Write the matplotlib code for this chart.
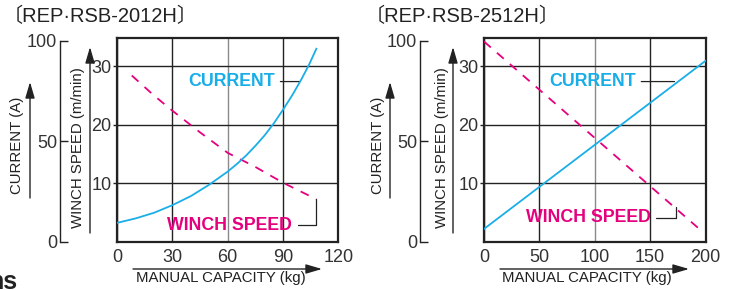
import matplotlib
matplotlib.use("Agg")
import matplotlib.pyplot as plt
from matplotlib.patches import FancyArrowPatch

plt.rcParams['font.family'] = ['Liberation Sans', 'Noto Sans CJK JP', 'DejaVu Sans']

# ---------------- data ----------------
titles = ["〔REP·RSB-2012H〕", "〔REP·RSB-2512H〕"]

# left chart (REP-RSB-2012H)
l_xticks = [0, 30, 60, 90, 120]
l_cur_kg = [0, 10, 20, 30, 40, 50, 60, 65, 70, 75, 80, 85, 90, 95, 100, 104, 108]
l_cur = [9.5, 11.7, 14.5, 18.3, 22.8, 28.5, 35, 38.8, 43, 47.8, 53, 59, 65.8, 73, 81, 88, 96]
l_spd_kg = [8, 20, 30, 45, 60, 75, 90, 108]
l_spd = [28.4, 25.0, 22.4, 18.7, 15.2, 12.8, 10.1, 7.3]

# right chart (REP-RSB-2512H)
r_xticks = [0, 50, 100, 150, 200]
r_cur_kg = [0, 200]
r_cur = [6.5, 90]
r_spd_kg = [0, 197]
r_spd = [34.2, 1.8]

speed_ticks = [10, 20, 30]
current_ticks = [0, 50, 100]

BLUE = "#19AEE8"
MAG = "#E5007E"
DARK = "#222222"
TXT = "#333333"

W, H = 734, 290
fig = plt.figure(figsize=(W / 100, H / 100), dpi=100)


def fx(px):
    return px / W


def fy(py):
    return 1 - py / H


def farrow(x0, y0, x1, y1):
    a = FancyArrowPatch((fx(x0), fy(y0)), (fx(x1), fy(y1)), transform=fig.transFigure,
                        arrowstyle="-|>,head_length=0.75,head_width=0.22", mutation_scale=13,
                        color=DARK, lw=1.0, shrinkA=0, shrinkB=0)
    fig.add_artist(a)


def panel(box_left, xticks, cur_kg, cur, spd_kg, spd, title, cur_off,
          cur_txt, cur_tip, spd_txt, spd_tip, offs):
    ax = fig.add_axes([fx(box_left), fy(242), fx(221.5), (242 - 38) / H])
    ax.set_xlim(xticks[0], xticks[-1])
    ax.set_ylim(0, 34.8)
    ax.set_xticks(xticks)
    ax.set_yticks(speed_ticks)
    ax.tick_params(axis='x', length=0, pad=5, labelsize=13, labelcolor=TXT)
    ax.tick_params(axis='y', length=3, width=1, pad=1, labelsize=13, labelcolor=TXT, color=DARK)
    for s in ax.spines.values():
        s.set_linewidth(1.6)
        s.set_color(DARK)
    ax.grid(True, color=DARK, lw=1.0)
    xgl = ax.get_xgridlines()
    xgl[2].set_color("#8a8a8a")
    ax.plot(spd_kg, spd, color=MAG, lw=1.3, dashes=(5, 4.5), zorder=3)

    axc = ax.twinx()
    axc.set_ylim(0, 100 * (242 - 38) / (242 - 40.7))
    axc.set_yticks(current_ticks)
    axc.yaxis.set_ticks_position('left')
    axc.yaxis.set_label_position('left')
    for k in ['right', 'top', 'bottom']:
        axc.spines[k].set_visible(False)
    axc.spines['left'].set_visible(True)
    axc.spines['left'].set_position(('outward', cur_off))
    axc.spines['left'].set_bounds(0, 100)
    axc.spines['left'].set_linewidth(1.0)
    axc.spines['left'].set_color(DARK)
    axc.tick_params(axis='y', direction='in', length=5.5, width=1, pad=2,
                    labelsize=13, labelcolor=TXT, color=DARK)
    axc.plot(cur_kg, cur, color=BLUE, lw=1.3, zorder=3)

    axc.annotate("CURRENT", xy=cur_tip, xytext=cur_txt, ha='right', va='center',
                 fontsize=12.8, fontweight='bold', color=BLUE,
                 arrowprops=dict(arrowstyle='-', color=DARK, lw=0.9, relpos=(1, 0.5),
                                 shrinkA=2, shrinkB=0))
    ax.annotate("WINCH SPEED", xy=spd_tip, xytext=spd_txt, ha='right', va='center',
                fontsize=12.8, fontweight='bold', color=MAG,
                arrowprops=dict(arrowstyle='-', color=DARK, lw=0.9, relpos=(1, 0.5),
                                shrinkA=2, shrinkB=0,
                                connectionstyle="angle,angleA=0,angleB=90,rad=0"))

    fig.text(fx(offs['title']), fy(16), title, fontsize=14.5, color=DARK, ha='left', va='center')
    farrow(offs['cur_arrow'], 198, offs['cur_arrow'], 82)
    fig.text(fx(offs['cur_lbl']), fy(145), "CURRENT (A)", rotation=90, fontsize=10.8,
             color=DARK, ha='center', va='center')
    farrow(offs['spd_arrow'], 233, offs['spd_arrow'], 47)
    fig.text(fx(offs['spd_lbl']), fy(148), "WINCH SPEED (m/min)", rotation=90, fontsize=10.8,
             color=DARK, ha='center', va='center')
    farrow(offs['x_arrow'][0], 269, offs['x_arrow'][1], 269)
    fig.text(fx(offs['x_lbl']), fy(278), "MANUAL CAPACITY (kg)", fontsize=10.8,
             color=DARK, ha='center', va='center')
    return ax


panel(117, l_xticks, l_cur_kg, l_cur, l_spd_kg, l_spd, titles[0], 41,
      cur_txt=(85.5, 79.7), cur_tip=(98.5, 79.7),
      spd_txt=(95, 2.9), spd_tip=(l_spd_kg[-1], l_spd[-1]),
      offs=dict(title=3, cur_arrow=30, cur_lbl=17, spd_arrow=90, spd_lbl=78,
                x_arrow=(133, 322), x_lbl=221))

panel(484, r_xticks, r_cur_kg, r_cur, r_spd_kg, r_spd, titles[1], 46,
      cur_txt=(137, 79.7), cur_tip=(172, 79.7),
      spd_txt=(150.5, 4.1), spd_tip=(173, 6.0),
      offs=dict(title=365, cur_arrow=390, cur_lbl=378, spd_arrow=453, spd_lbl=442,
                x_arrow=(500, 689), x_lbl=587))

fig.text(fx(17.5), fy(289), "ns", fontsize=18, fontweight='bold', color=DARK, ha='right',
         va='baseline')

fig.savefig("out.png", dpi=100)
